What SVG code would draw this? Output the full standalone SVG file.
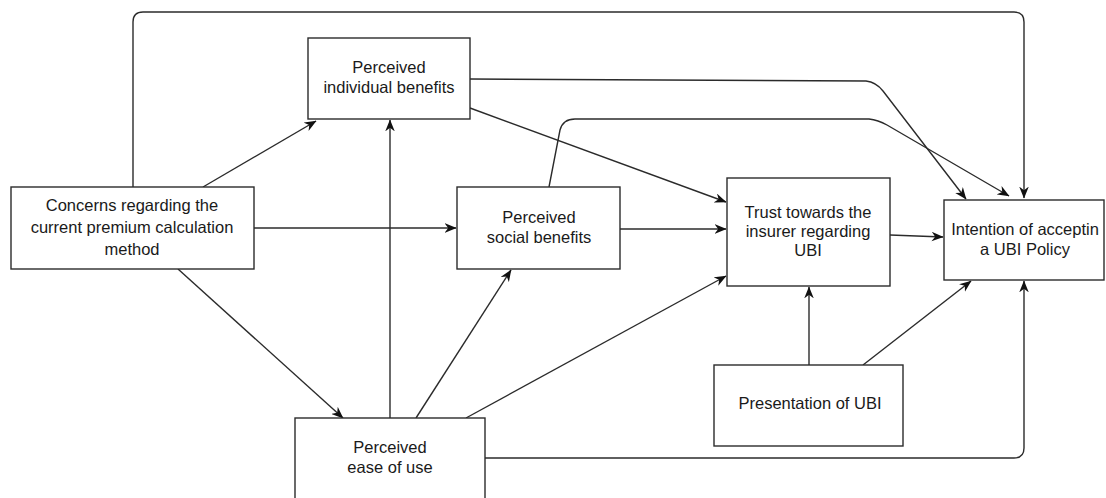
<svg xmlns="http://www.w3.org/2000/svg" width="1106" height="498" viewBox="0 0 1106 498">
<style>
.box{fill:#fff;stroke:#2b2b2b;stroke-width:1.4}
.lbl{font-family:"Liberation Sans",Arial,sans-serif;font-size:16.5px;fill:#1a1a1a;text-anchor:middle}
.edge{fill:none;stroke:#2b2b2b;stroke-width:1.4;marker-end:url(#arr)}
</style>
<defs>
<marker id="arr" viewBox="0 0 10 8" refX="9.5" refY="4" markerWidth="12" markerHeight="10" markerUnits="userSpaceOnUse" orient="auto">
<path d="M0,0 L10,4 L0,8 L3,4 Z" fill="#111"/>
</marker>
</defs>
<rect width="1106" height="498" fill="#fff"/>
<g id="connectors">
<path class="edge" d="M133,187 V22 Q133,12 143,12 H1014 Q1024,12 1024,22 V198"/>
<path class="edge" d="M470,79 L866,81 Q876,82 883,91 L966,199"/>
<path class="edge" d="M549,187 L560,130 Q563,119 575,119 L869,119 Q878,120 887,125 L1009,196"/>
<path class="edge" d="M203,187 L316,121"/>
<path class="edge" d="M254,228 L456,228"/>
<path class="edge" d="M178,269 L343,418"/>
<path class="edge" d="M390,418 V120"/>
<path class="edge" d="M416,418 L511,270"/>
<path class="edge" d="M466,418 L726,276"/>
<path class="edge" d="M485,458 H1014 Q1024,458 1024,448 V281"/>
<path class="edge" d="M470,108 L726,202"/>
<path class="edge" d="M620,229 L726,229"/>
<path class="edge" d="M890,235 L943,237"/>
<path class="edge" d="M809,365 V287"/>
<path class="edge" d="M863,365 L971,281"/>
</g>
<g id="n-individual">
<rect class="box" x="308" y="38" width="162" height="81"/>
<text class="lbl" x="389" y="73">Perceived</text>
<text class="lbl" x="389" y="93">individual benefits</text>
</g>
<g id="n-concerns">
<rect class="box" x="11" y="187" width="243" height="82"/>
<text class="lbl" x="132" y="211">Concerns regarding the</text>
<text class="lbl" x="132" y="233">current premium calculation</text>
<text class="lbl" x="132" y="255">method</text>
</g>
<g id="n-social">
<rect class="box" x="457" y="187" width="163" height="82"/>
<text class="lbl" x="539" y="223">Perceived</text>
<text class="lbl" x="539" y="243">social benefits</text>
</g>
<g id="n-trust">
<rect class="box" x="727" y="178" width="163" height="108"/>
<text class="lbl" x="808" y="218">Trust towards the</text>
<text class="lbl" x="808" y="237">insurer regarding</text>
<text class="lbl" x="808" y="256">UBI</text>
</g>
<g id="n-intention">
<rect class="box" x="944" y="200" width="160" height="80"/>
<text class="lbl" x="1025" y="235">Intention of acceptin</text>
<text class="lbl" x="1025" y="255">a UBI Policy</text>
</g>
<g id="n-presentation">
<rect class="box" x="714" y="365" width="189" height="81"/>
<text class="lbl" x="810" y="409">Presentation of UBI</text>
</g>
<g id="n-ease">
<rect class="box" x="295" y="418" width="190" height="92"/>
<text class="lbl" x="390" y="453">Perceived</text>
<text class="lbl" x="390" y="473">ease of use</text>
</g>
</svg>
